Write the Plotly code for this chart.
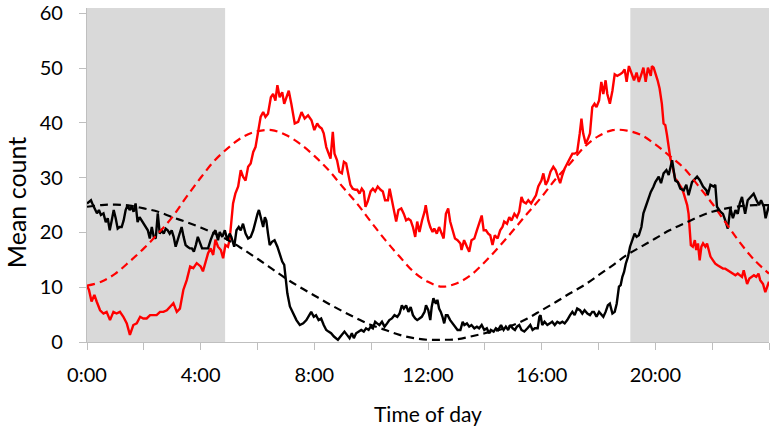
import plotly.graph_objects as go

# ---------------- data (hours of day, mean counts) ----------------
red_t = [0.00,0.07,0.16,0.26,0.34,0.46,0.58,0.69,0.81,0.93,1.04,1.16,1.28,1.40,1.51,1.63,1.75,1.87,1.98,2.10,
         2.22,2.34,2.45,2.57,2.69,2.81,2.92,3.04,3.16,3.27,3.39,3.51,3.63,3.74,3.86,
         4.00,4.08,4.17,4.26,4.35,4.44,4.52,4.61,4.71,4.79,4.87,4.96,5.02,5.08,5.14,5.22,5.32,5.41,5.49,5.58,
         5.67,5.76,5.85,5.93,6.02,6.11,6.20,6.28,6.37,6.47,6.55,6.63,6.70,6.78,6.87,6.94,7.02,7.10,7.19,7.31,
         7.43,7.55,7.66,7.78,7.90,
         8.00,8.10,8.18,8.26,8.33,8.42,8.50,8.57,8.65,8.71,8.80,8.88,8.97,9.04,9.12,9.20,9.27,9.35,9.44,9.51,
         9.59,9.67,9.74,9.80,9.88,9.98,10.06,10.14,10.23,10.33,10.41,10.49,10.59,10.65,10.73,10.80,10.88,10.96,
         11.06,11.15,11.23,11.31,11.39,11.47,11.55,11.62,11.70,11.79,11.88,
         11.92,12.01,12.08,12.16,12.22,12.31,12.39,12.48,12.55,12.63,12.71,12.78,12.86,12.95,13.04,13.14,13.18,
         13.27,13.37,13.45,13.53,13.63,13.72,13.80,13.89,13.96,14.04,14.12,14.19,14.27,14.35,14.45,14.54,14.62,
         14.68,14.78,14.86,14.94,15.04,15.13,15.21,15.29,15.36,15.45,15.53,15.63,15.72,15.80,15.88,
         15.99,16.06,16.14,16.22,16.31,16.41,16.49,16.57,16.65,16.73,16.81,16.90,17.00,17.08,17.16,17.25,17.34,
         17.40,17.46,17.55,17.63,17.70,17.78,17.86,17.93,18.02,18.10,18.17,18.25,18.31,18.40,18.49,18.57,18.66,
         18.76,18.84,18.92,18.99,19.07,19.15,19.25,19.34,19.42,19.51,19.58,19.66,19.74,19.84,
         19.88,19.94,20.00,20.08,20.15,20.23,20.29,20.35,20.41,20.46,20.53,20.58,20.65,20.70,20.76,20.85,20.94,
         21.00,21.06,21.12,21.17,21.21,21.25,21.32,21.39,21.44,21.50,21.56,21.62,21.68,21.76,21.82,21.88,21.94,
         22.03,22.11,22.19,22.29,22.38,22.46,22.55,22.64,22.73,22.82,22.90,22.98,23.05,23.11,23.15,23.23,23.31,
         23.39,23.47,23.55,23.63,23.69,23.79,23.87,24.00]
red_v = [10.3,9.5,7.4,8.6,7.4,5.8,5.2,5.5,4.0,5.5,5.2,5.5,4.6,3.4,1.3,3.1,3.4,4.6,4.3,4.3,
         4.9,4.9,4.9,5.5,5.5,5.8,6.4,7.1,5.5,6.1,9.5,11.3,13.8,13.5,14.4,
         13.8,12.9,14.4,16.2,17.1,15.9,18.7,17.4,16.8,15.3,17.7,17.4,18.7,22.9,25.3,27.1,28.4,31.4,30.2,29.5,
         32.0,32.6,34.7,35.6,38.1,41.1,42.0,41.1,41.7,44.7,45.3,44.1,46.9,44.7,45.6,43.5,44.7,45.9,43.5,39.9,
         40.2,42.0,40.8,41.4,40.5,
         38.7,39.9,39.3,39.0,38.1,35.6,34.4,33.5,38.4,34.4,33.2,31.1,30.8,32.9,32.6,30.8,28.7,28.0,27.8,27.8,
         27.1,28.0,27.5,24.7,25.7,27.5,28.0,27.5,28.4,27.8,27.5,25.9,25.9,28.0,25.9,24.4,22.0,24.1,
         24.4,23.4,22.2,22.5,22.2,21.0,19.2,22.0,20.1,22.2,23.8,
         25.0,22.2,21.0,20.1,20.7,19.8,21.0,19.8,18.9,23.4,24.4,22.0,20.4,18.9,18.6,18.0,16.8,
         18.6,17.4,16.5,18.6,18.9,20.4,21.6,23.1,20.4,20.4,19.8,19.5,17.7,19.5,18.9,20.4,21.0,
         22.0,21.6,22.8,22.2,23.4,22.8,23.8,26.5,25.6,25.3,25.9,25.3,26.2,26.8,28.4,
         29.5,30.8,28.7,29.5,31.1,32.0,31.4,30.2,29.0,30.5,31.7,32.6,33.5,34.4,34.4,34.7,38.1,
         40.8,38.1,36.2,37.1,38.1,42.9,43.5,42.9,44.1,47.5,45.3,47.8,45.3,43.5,45.9,48.9,48.6,
         48.9,49.2,49.8,47.5,50.4,49.2,47.8,49.2,47.5,48.9,50.1,47.5,50.1,48.6,
         50.4,50.1,49.2,47.8,46.3,43.5,39.9,39.6,37.8,35.6,33.5,32.6,30.8,29.8,29.5,28.7,28.0,
         27.1,25.9,25.0,23.4,19.8,17.7,17.4,18.6,16.8,18.0,14.9,17.4,18.0,17.4,18.0,16.5,15.6,
         14.9,14.3,14.0,13.7,13.4,13.4,13.1,12.8,12.5,12.2,12.5,12.2,11.9,13.1,12.2,10.6,11.6,
         11.9,12.2,11.9,12.5,11.3,10.6,9.1,11.0]

black_t = [0.00,0.07,0.14,0.21,0.28,0.35,0.42,0.49,0.58,0.66,0.73,0.80,0.87,0.94,1.01,1.08,1.15,1.22,1.29,1.36,
           1.43,1.50,1.57,1.64,1.71,1.78,1.85,1.92,2.00,2.07,2.14,2.21,2.28,2.35,2.42,2.49,2.56,2.63,2.70,2.77,
           2.84,2.91,2.98,3.05,3.12,3.19,3.26,3.33,3.40,3.47,3.54,3.62,3.69,3.76,3.83,3.90,
           4.05,4.14,4.26,4.35,4.44,4.52,4.61,4.67,4.76,4.85,4.94,5.02,5.08,5.18,5.26,5.34,5.41,5.49,5.58,5.67,
           5.76,5.85,5.93,6.00,6.05,6.11,6.20,6.26,6.31,6.37,6.43,6.51,6.60,6.70,6.78,6.87,6.94,6.98,7.05,7.14,
           7.25,7.37,7.49,7.61,7.72,7.84,
           7.89,7.98,8.06,8.15,8.24,8.33,8.42,8.50,8.59,8.69,8.77,8.83,8.92,9.00,9.06,9.15,9.24,9.32,9.39,9.47,
           9.55,9.65,9.74,9.82,9.91,9.98,10.06,10.14,10.21,10.29,10.38,10.47,10.56,10.64,10.73,10.82,10.92,11.00,
           11.08,11.15,11.23,11.31,11.39,11.47,11.55,11.62,11.70,11.78,11.88,
           11.93,12.01,12.08,12.13,12.19,12.28,12.33,12.39,12.45,12.51,12.57,12.63,12.69,12.78,12.86,12.95,13.04,
           13.14,13.22,13.28,13.37,13.45,13.53,13.63,13.72,13.80,13.89,13.98,14.07,14.15,14.21,14.31,14.39,14.47,
           14.57,14.66,14.74,14.82,14.90,14.98,15.06,15.13,15.21,15.29,15.39,15.50,15.60,15.68,15.76,15.86,15.92,
           15.96,16.02,16.10,16.20,16.29,16.37,16.46,16.55,16.64,16.73,16.81,16.90,17.00,17.08,17.16,17.25,17.35,
           17.43,17.51,17.61,17.70,17.78,17.84,17.93,18.02,18.10,18.17,18.25,18.33,18.40,18.49,18.57,18.64,18.72,
           18.78,18.84,18.90,18.96,19.04,19.11,19.19,19.27,19.34,19.42,19.51,19.58,19.66,19.74,19.84,19.93,
           20.00,20.12,20.20,20.29,20.39,20.47,20.59,20.70,20.79,20.88,21.00,21.09,21.17,21.29,21.47,21.56,21.68,
           21.80,21.84,21.94,22.05,22.11,22.17,22.29,22.38,22.46,22.55,22.64,22.73,22.82,22.90,22.97,23.05,23.11,
           23.16,23.25,23.35,23.46,23.56,23.65,23.72,23.82,23.88,24.00]
black_v = [25.3,25.6,25.9,25.0,24.1,23.5,24.1,23.2,23.5,21.9,22.6,20.4,22.2,24.1,22.6,20.7,21.0,21.0,22.2,24.1,
           25.0,24.1,24.7,23.8,25.3,21.9,22.8,22.2,21.6,21.0,20.4,18.9,21.0,19.2,18.9,23.5,19.8,20.4,19.8,20.7,
           20.4,19.8,20.4,19.2,17.4,18.6,19.8,21.0,19.2,17.7,17.4,17.1,17.1,16.5,17.7,19.2,
           17.1,17.1,17.1,18.6,19.8,20.4,18.6,20.1,19.2,20.4,18.6,19.8,19.2,17.4,20.4,21.0,20.4,21.6,19.8,18.9,
           19.2,20.4,22.2,23.4,24.1,22.8,21.0,22.8,22.2,19.8,17.7,18.3,18.6,17.4,15.9,14.7,14.1,11.9,8.9,6.5,
           5.2,4.0,3.1,3.4,4.0,4.9,
           5.5,4.6,4.9,4.0,4.3,3.1,2.2,1.9,1.6,1.0,0.7,0.4,1.0,1.6,1.9,1.3,0.7,1.6,0.7,1.6,
           1.9,2.2,1.9,2.5,2.2,2.8,2.5,3.7,3.4,3.1,3.7,2.8,3.4,4.0,4.3,4.9,4.6,5.2,
           6.7,6.1,6.7,5.5,6.4,4.9,4.3,4.0,4.3,4.6,5.5,
           6.7,5.8,4.0,6.4,8.0,7.0,7.7,6.1,5.5,4.6,3.4,4.9,4.9,4.0,3.4,2.8,2.2,
           2.2,3.7,3.1,3.4,2.8,3.1,2.5,2.8,2.5,3.1,2.2,2.5,1.6,2.2,1.9,2.5,2.2,
           3.1,2.2,2.8,2.2,3.1,2.5,2.2,2.8,3.1,2.2,1.9,2.5,3.1,2.2,2.5,2.5,4.6,
           4.9,3.1,3.7,3.1,3.4,3.7,3.1,3.7,3.4,3.7,3.4,4.0,4.9,5.5,4.9,6.1,5.8,
           5.2,5.8,5.2,4.9,5.5,5.5,4.6,5.5,4.9,4.6,5.5,6.7,7.0,5.2,5.5,7.0,10.1,
           10.4,11.9,12.8,14.3,15.6,17.4,18.6,19.8,19.2,19.5,21.0,23.5,24.7,25.9,27.4,28.3,
           29.2,30.2,29.0,30.8,31.4,30.5,33.2,29.5,29.2,28.0,27.7,28.7,26.8,29.2,30.2,29.6,28.4,
           27.7,26.8,28.7,28.4,28.7,24.7,23.8,23.4,22.2,20.7,24.4,22.6,24.1,23.4,25.3,26.5,24.7,
           23.4,25.9,26.5,27.1,25.9,25.0,25.9,24.7,22.6,25.0]

fit_t = [0.0,0.5,1.0,1.5,2.0,2.5,3.0,3.5,4.0,4.5,5.0,5.5,6.0,6.5,7.0,7.5,8.0,8.5,9.0,9.5,10.0,10.5,11.0,11.5,
         12.0,12.5,13.0,13.5,14.0,14.5,15.0,15.5,16.0,16.5,17.0,17.5,18.0,18.5,19.0,19.5,20.0,20.5,21.0,21.5,
         22.0,22.5,23.0,23.5,24.0]
red_fit = [10.3,11.0,12.5,14.7,17.1,19.8,22.8,26.5,30.0,33.2,35.6,37.5,38.5,38.7,37.8,36.2,34.0,31.4,28.3,25.3,
           21.9,18.6,15.6,12.8,11.0,10.1,10.7,12.2,14.6,17.4,20.4,23.5,26.5,29.8,32.6,35.6,37.6,38.7,38.6,37.8,
           36.1,34.0,31.8,28.6,25.3,21.6,18.0,14.9,12.5]
black_fit = [24.7,25.0,25.1,24.9,24.4,23.8,22.8,21.9,20.9,19.8,18.5,16.9,15.2,13.4,11.6,10.0,8.5,7.0,5.6,4.3,
             3.1,2.2,1.3,0.7,0.4,0.4,0.5,1.0,1.6,2.2,3.1,4.3,5.8,7.3,8.9,10.4,12.2,14.0,15.9,17.4,
             18.9,20.4,21.6,22.8,23.8,24.4,24.8,25.0,25.0]

dark_periods = [(0.0, 4.86), (19.12, 24.0)]
x_ticks = [0, 2, 4, 6, 8, 10, 12, 14, 16, 18, 20, 22, 24]
x_labels = ["0:00", "", "4:00", "", "8:00", "", "12:00", "", "16:00", "", "20:00", "", ""]
y_ticks = [0, 10, 20, 30, 40, 50, 60]

# ---------------- figure ----------------
FONT = "Lato, 'Open Sans', sans-serif"
fig = go.Figure()

fig.add_trace(go.Scatter(x=red_t, y=red_v, mode="lines",
                         line=dict(color="#ff0000", width=2.4), hoverinfo="skip"))
fig.add_trace(go.Scatter(x=black_t, y=black_v, mode="lines",
                         line=dict(color="#000000", width=2.4), hoverinfo="skip"))
fig.add_trace(go.Scatter(x=fit_t, y=red_fit, mode="lines",
                         line=dict(color="#ff0000", width=2.2, dash="8px,5px", shape="spline"),
                         hoverinfo="skip"))
fig.add_trace(go.Scatter(x=fit_t, y=black_fit, mode="lines",
                         line=dict(color="#000000", width=2.2, dash="8px,5px", shape="spline"),
                         hoverinfo="skip"))

for x0, x1 in dark_periods:
    fig.add_shape(type="rect", xref="x", yref="y", x0=x0, x1=x1, y0=0, y1=61,
                  fillcolor="#d9d9d9", line=dict(width=0), layer="below")

axis_col = "#bfbfbf"
fig.update_xaxes(range=[0, 24], tickvals=x_ticks, ticktext=x_labels,
                 ticks="outside", ticklen=7, tickwidth=1.3, tickcolor=axis_col,
                 showline=True, linecolor=axis_col, linewidth=1.3,
                 showgrid=False, zeroline=False, ticklabelstandoff=8,
                 tickfont=dict(family=FONT, size=20, color="#000000"))
fig.update_yaxes(range=[0, 61], tickvals=y_ticks,
                 ticks="outside", ticklen=7, tickwidth=1.3, tickcolor=axis_col,
                 showline=True, linecolor=axis_col, linewidth=1.3,
                 showgrid=False, zeroline=False, ticklabelstandoff=12,
                 tickfont=dict(family=FONT, size=20, color="#000000"))

fig.add_annotation(text="Mean count", xref="paper", yref="paper", x=-0.104, y=0.416,
                   textangle=-90, showarrow=False, xanchor="center", yanchor="middle",
                   font=dict(family=FONT, size=25, color="#000000"))
fig.add_annotation(text="Time of day", xref="paper", yref="paper", x=0.5, y=-0.2126,
                   showarrow=False, xanchor="center", yanchor="middle",
                   font=dict(family=FONT, size=21, color="#000000"))

fig.update_layout(width=775, height=432, autosize=False,
                  margin=dict(l=87, r=6, t=8, b=90, autoexpand=False),
                  paper_bgcolor="white", plot_bgcolor="white",
                  showlegend=False, hovermode=False)

fig.write_html("out.html", config={"displayModeBar": False},
               post_script="document.body.style.margin='0px';document.body.style.overflow='hidden';")
